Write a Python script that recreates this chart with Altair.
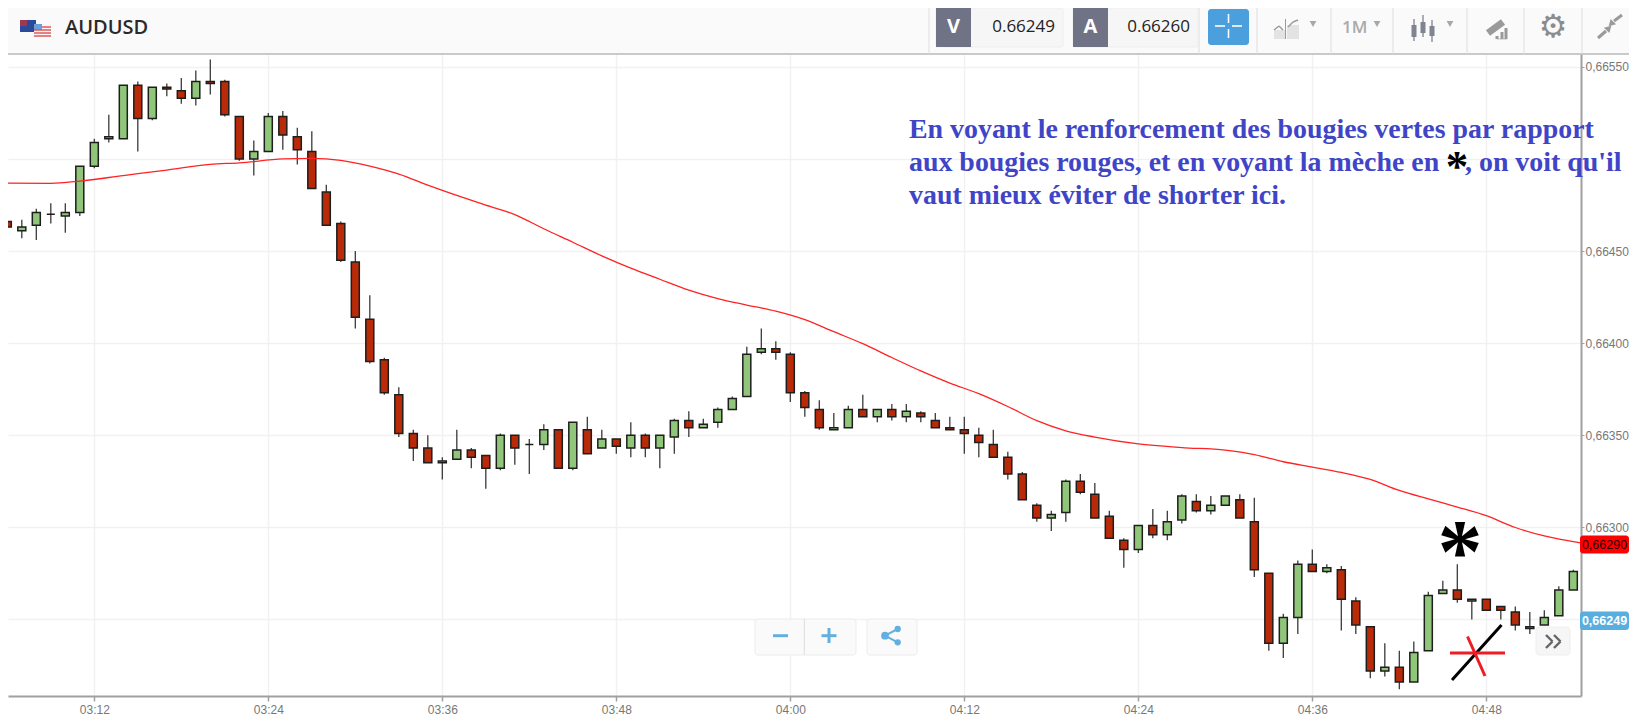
import altair as alt
import pandas as pd

# One candle per minute, as minutes after 03:12; prices are 0.66xxx, written as the last three digits
first_minute = -6
highs = [473,467,473,476,476,496,511,524,540,542,
         539,541,544,548,554,543,523,510,525,526,
         517,515,486,466,450,426,392,376,353,350,
         338,353,343,339,351,350,348,356,353,357,
         360,353,348,357,351,350,359,363,359,365,
         371,398,408,401,395,374,369,362,366,372,
         364,367,367,363,362,360,360,354,353,341,
         330,313,309,326,329,324,309,294,301,310,
         309,318,318,317,317,318,316,275,253,282,
         288,280,279,262,246,237,233,238,265,271,
         280,261,261,257,257,254,255,268,277]
body_tops = [466,463,471,470,471,496,509,512,540,540,
             539,539,537,542,542,542,523,504,523,523,
             512,504,482,465,444,413,391,372,351,343,
             336,342,342,339,350,350,345,353,353,357,
             353,348,348,350,350,350,358,358,356,364,
             370,394,397,397,394,373,364,354,364,364,
             364,364,363,362,358,354,353,350,345,338,
             329,312,307,325,325,318,306,293,301,301,
             303,317,314,312,317,315,303,275,251,280,
             280,278,277,260,246,224,224,232,263,266,
             266,261,261,257,254,246,251,266,276]
body_bottoms = [463,461,464,470,469,471,496,511,511,522,
                522,538,533,533,541,524,500,500,504,513,
                505,484,464,445,414,390,373,351,343,335,
                335,337,338,332,332,343,345,345,332,332,
                340,343,344,343,343,343,349,354,354,357,
                364,371,395,395,373,365,354,353,354,360,
                360,360,360,360,354,353,351,346,338,329,
                315,305,305,308,319,305,294,288,288,296,
                296,304,309,309,312,305,277,237,237,251,
                276,276,261,247,222,222,216,216,233,264,
                261,260,255,255,247,245,247,252,266]
lows = [452,457,456,465,460,469,495,509,511,504,
        521,534,530,529,535,523,499,491,504,505,
        497,484,464,444,408,389,372,349,336,335,
        326,337,332,321,331,334,329,342,332,331,
        340,343,340,338,338,332,340,349,354,354,
        364,371,394,391,368,360,353,353,354,360,
        357,358,357,357,354,353,340,338,338,326,
        315,303,298,303,318,305,294,278,286,294,
        293,302,308,307,312,305,273,233,229,242,
        276,275,244,242,218,219,212,216,233,264,
        259,250,255,250,244,242,247,252,266]
directions = list("RGGGGGGGGR" "GRRGRRRGGR" "RRRRRRRRRR" "GGRRGRGGRG" "RGRGRGGRGG"
                  "GGGRRRRGGR" "GRGRRRRRRR" "RRGGRRRRGR" "GGRGGRRRGG" "RGRRRGRGGG" "RGRRRGGGG")

# Moving average: minutes after 03:12 and price
ema_minutes = [-6,-3,-1,2,5,8,10,13,15,17,19,21,23,25,27,29,31,33,35,37,39,41,43,45,47,49,51,53,55,57,59,
               61,63,65,67,69,72,75,78,80,82,84,86,88,90,92,94,96,98,100,102.5]
ema_values = [66486.9,66486.8,66488,66491,66494,66497.1,66497.9,66500,66500.3,66499.2,66496.1,66491.8,66485.8,
              66480.2,66474.9,66469.8,66462.1,66454.8,66447.4,66440.7,66434.7,66428.8,66424.2,66420.7,66417.4,
              66412.8,66406.2,66399.7,66392.2,66384.9,66378.3,66372.6,66365.6,66357.9,66352.4,66349,66345.3,
              66343.3,66341.9,66339.5,66335.6,66332.7,66329.8,66326,66320,66315.4,66311,66306.3,66299.9,66295.3,66291.6]

price_ticks = [0.6625, 0.663, 0.6635, 0.664, 0.6645, 0.665, 0.6655]
time_ticks = [0, 12, 24, 36, 48, 60, 72, 84, 96]
text_lines = ["En voyant le renforcement des bougies vertes par rapport",
              "aux bougies rouges, et en voyant la mèche en",
              ", on voit qu'il",
              "vaut mieux éviter de shorter ici."]

p = lambda v: (66000 + v) / 100000
candles = pd.DataFrame({
    "t": list(range(first_minute, first_minute + len(highs))),
    "high": [p(v) for v in highs], "low": [p(v) for v in lows],
    "top": [p(v) for v in body_tops], "bottom": [p(v) for v in body_bottoms],
    "dir": directions,
})
ema = pd.DataFrame({"t": ema_minutes, "v": [v / 100000 for v in ema_values]})
one = pd.DataFrame({"k": [0]})

GRID = "#f1f1f1"
AXIS = "#a0a0a0"
LABEL = "#777777"
SANS = "Liberation Sans"

x_scale = alt.Scale(domain=[-5.952, 102.53], zero=False, nice=False, padding=0)
y_scale = alt.Scale(domain=[0.662084, 0.665570], zero=False, nice=False)

x_enc = alt.X("t:Q", scale=x_scale, title=None, axis=alt.Axis(
    values=time_ticks, labelExpr="timeFormat(datetime(2020, 0, 6, 3, 12 + datum.value), '%H:%M')",
    grid=True, gridColor=GRID, gridWidth=1.5,
    domainColor=AXIS, domainWidth=2, tickColor=AXIS, tickSize=5, tickWidth=1.5,
    labelColor=LABEL, labelFont=SANS, labelFontSize=12, labelPadding=3, labelFlush=False))
# the 0,66500 and 0,66250 labels are covered by the annotation and the bid tag in the reference
y_axis = alt.Axis(
    values=price_ticks, orient="right", grid=True, gridColor=GRID, gridWidth=1.5,
    domainColor=AXIS, domainWidth=2, tickColor=AXIS, tickSize=3, tickWidth=1,
    labelColor=LABEL, labelFont=SANS, labelFontSize=12, labelPadding=1,
    labelExpr="abs(datum.value - 0.665) < 0.00001 || abs(datum.value - 0.6625) < 0.00001 ? '' : replace(format(datum.value, '.5f'), '.', ',')")

wicks = alt.Chart(candles).mark_rule(color="#3a3a3a", strokeWidth=1.3).encode(
    x=x_enc,
    y=alt.Y("high:Q", scale=y_scale, title=None, axis=y_axis),
    y2=alt.Y2("low"))
bodies = alt.Chart(candles).mark_bar(size=8, stroke="#1e1e1e", strokeWidth=1.5).encode(
    x=alt.X("t:Q", scale=x_scale, title=None),
    y=alt.Y("top:Q", scale=y_scale, title=None),
    y2=alt.Y2("bottom"),
    color=alt.Color("dir:N", legend=None,
                    scale=alt.Scale(domain=["R", "G"], range=["#b82a08", "#8fc67a"])))
ema_line = alt.Chart(ema).mark_line(color="#ff2222", strokeWidth=1.3, interpolate="monotone").encode(
    x=alt.X("t:Q", scale=x_scale, title=None),
    y=alt.Y("v:Q", scale=y_scale, title=None))

OX, OY = 8, 54   # page position of the plot's corner


def rect(x0, x1, y0, y1, color, radius=0, stroke=None, sw=1):
    kw = dict(color=color, cornerRadius=radius)
    if stroke:
        kw.update(stroke=stroke, strokeWidth=sw)
    return alt.Chart(one).mark_rect(**kw).encode(
        x=alt.value(x0 - OX), x2=alt.value(x1 - OX), y=alt.value(y0 - OY), y2=alt.value(y1 - OY))


def seg(x0, y0, x1, y1, color, w=1.0, cap="butt"):
    return alt.Chart(one).mark_rule(color=color, strokeWidth=w, strokeCap=cap).encode(
        x=alt.value(x0 - OX), x2=alt.value(x1 - OX), y=alt.value(y0 - OY), y2=alt.value(y1 - OY))


def txt(s, x, y, size, color, font=SANS, weight="normal", align="left", baseline="middle"):
    return alt.Chart(one).mark_text(text=s, fontSize=size, color=color, font=font, fontWeight=weight,
                                    align=align, baseline=baseline).encode(
        x=alt.value(x - OX), y=alt.value(y - OY))


def pt(x, y, shape, size, color, angle=0):
    return alt.Chart(one).mark_point(shape=shape, size=size, color=color, filled=True, opacity=1, angle=angle).encode(
        x=alt.value(x - OX), y=alt.value(y - OY))


ui = []
# top bar
ui.append(rect(8, 1629, 8, 54, "#fafafa"))
ui.append(seg(8, 54, 1629, 54, "#b9b9b9", 1.5))
for sx in [929, 1199, 1257, 1331, 1393, 1467, 1524, 1582]:
    ui.append(seg(sx, 8, sx, 54, "#dedede", 1))
# flags
ui.append(rect(20, 36, 20, 32, "#2c4a9a"))
ui.append(rect(20, 27, 20, 26, "#9a3a55"))
ui.append(rect(34, 51, 24, 37, "#f6f6f6"))
ui.append(rect(34, 42, 24, 30, "#6a9fdc"))
for yy in [27, 30, 33, 36]:
    ui.append(seg(42 if yy < 30 else 34, yy, 51, yy, "#e05050", 1.4))
ui.append(txt("AUDUSD", 65, 27.5, 20, "#2a2a2a", font="Open Sans", weight=600))
# bid / ask
for x0, x1, x2, letter, val in [(936, 971, 1063, "V", "0.66249"), (1073, 1108, 1198, "A", "0.66260")]:
    ui.append(rect(x0, x2, 8, 47, "#f6f6f6", 2, "#eeeeee"))
    ui.append(rect(x0, x1, 8, 47, "#6f7385"))
    ui.append(txt(letter, (x0 + x1) / 2, 27, 20, "#ffffff", font="Open Sans", weight="bold", align="center"))
    ui.append(txt(val, x2 - 8, 27, 17, "#222222", font="Open Sans", align="right"))
# crosshair button
ui.append(rect(1208, 1249, 9, 45, "#4a9fdc", 3))
for a, b, c, d in [(1215, 26, 1225, 26), (1232, 26, 1242, 26), (1228.5, 14, 1228.5, 23), (1228.5, 29, 1228.5, 38)]:
    ui.append(seg(a, b, c, d, "#ffffff", 1.6))
# chart type icon
ui.append(rect(1274, 1285, 30, 39, "#e3e3e3"))
ui.append(rect(1287, 1299, 25, 39, "#e3e3e3"))
ui.append(seg(1285.5, 19, 1285.5, 39, "#9a9a9a", 1))
ui.append(seg(1274, 30, 1279, 26, "#9a9a9a", 1.5))
ui.append(seg(1279, 26, 1283, 30, "#9a9a9a", 1.5))
ui.append(seg(1288, 27, 1293, 22, "#9a9a9a", 1.5))
ui.append(seg(1293, 22, 1298, 20, "#9a9a9a", 1.5))
ui.append(pt(1313, 24, "triangle-down", 45, "#a8a8a8"))
ui.append(txt("1M", 1342, 28, 17, "#aaaaaa", font="Open Sans", weight=600))
ui.append(pt(1377, 24, "triangle-down", 45, "#a8a8a8"))
# candle icon
for cx, a, b, c, d in [(1414, 19, 25, 37, 41), (1423, 15, 22, 33, 37), (1432, 20, 26, 36, 42)]:
    ui.append(seg(cx, a, cx, d, "#7f8490", 1.3))
    ui.append(rect(cx - 2.5, cx + 2.5, b, c, "#7f8490"))
ui.append(pt(1450, 24, "triangle-down", 45, "#a8a8a8"))
# pen icon
ui.append(seg(1488, 33, 1503, 22, "#9a9a9a", 7))
ui.append(seg(1497, 39, 1507, 39, "#c0c0c0", 1))
for bx, by in [(1497, 36), (1502, 32), (1506, 28)]:
    ui.append(seg(bx, by, bx, 39, "#9a9a9a", 3))
# settings
ui.append(txt("⚙", 1553, 27, 32, "#8c8c8c", font="DejaVu Sans", align="center"))
# compress arrows
ui.append(seg(1614, 21, 1622, 15, "#9a9a9a", 3))
ui.append(pt(1611, 24, "triangle-up", 60, "#9a9a9a", 225))
ui.append(seg(1598, 38, 1606, 31, "#9a9a9a", 3))
ui.append(pt(1609, 28, "triangle-up", 60, "#9a9a9a", 45))

# zoom and share buttons
ui.append(rect(755, 856, 619, 655, "#fafafa", 3, "#ececec"))
ui.append(seg(804.3, 619, 804.3, 655, "#dddddd", 1))
ui.append(seg(773, 635.7, 788, 635.7, "#63b0de", 3))
ui.append(seg(821.5, 635.7, 836.5, 635.7, "#63b0de", 3))
ui.append(seg(829, 628, 829, 643, "#63b0de", 3))
ui.append(rect(867, 917, 619, 655, "#fafafa", 3, "#ececec"))
ui.append(seg(885, 635.7, 897.7, 629, "#63b0de", 2))
ui.append(seg(885, 635.7, 897.7, 642.3, "#63b0de", 2))
ui.append(pt(885, 635.7, "circle", 60, "#63b0de"))
ui.append(pt(897.7, 629, "circle", 40, "#63b0de"))
ui.append(pt(897.7, 642.3, "circle", 40, "#63b0de"))
# scroll button
ui.append(rect(1536, 1570, 627, 655, "#f6f6f6", 3, "#eeeeee"))
for dx in [0, 8]:
    ui.append(seg(1546 + dx, 635, 1552.5 + dx, 641.5, "#666666", 2.4))
    ui.append(seg(1552.5 + dx, 641.5, 1546 + dx, 648, "#666666", 2.4))
# price tags
ui.append(rect(1580, 1629, 535.5, 553.5, "#ff0000", 3))
ui.append(txt("0,66290", 1604.5, 545, 12.5, "#2a0000", align="center"))
ui.append(rect(1580, 1629, 611.5, 630, "#58aede", 3))
ui.append(txt("0,66249", 1604.5, 621, 12.5, "#ffffff", weight="bold", align="center"))

# annotation
BLUE = "#4045c8"
SERIF = "Liberation Serif"
ui.append(txt(text_lines[0], 909, 130, 27.9, BLUE, font=SERIF, weight="bold"))
ui.append(txt(text_lines[1], 909, 163, 27.9, BLUE, font=SERIF, weight="bold"))
ui.append(txt("*", 1457, 167, 45, "#000000", font=SERIF, weight="bold", align="center"))
ui.append(txt(text_lines[2], 1465, 163, 27.9, BLUE, font=SERIF, weight="bold"))
ui.append(txt(text_lines[3], 909, 196, 27.9, BLUE, font=SERIF, weight="bold"))
ui.append(txt("*", 1460, 555, 90, "#000000", font=SERIF, weight="bold", align="center"))
ui.append(seg(1452, 680, 1501.5, 625, "#000000", 3))
ui.append(seg(1450, 653, 1505, 653, "#ee1c25", 3))
ui.append(seg(1467.5, 636.5, 1485, 676, "#ee1c25", 3))

chart = alt.layer(wicks, bodies, ema_line, *ui).properties(
    width=1573, height=642,
    padding={"left": 0, "top": 46, "right": 48, "bottom": 24},
    autosize=alt.AutoSizeParams(type="none"),
    background="white",
).configure_view(stroke=None)

chart.save("out.html", embed_options={"renderer": "svg", "actions": False})
